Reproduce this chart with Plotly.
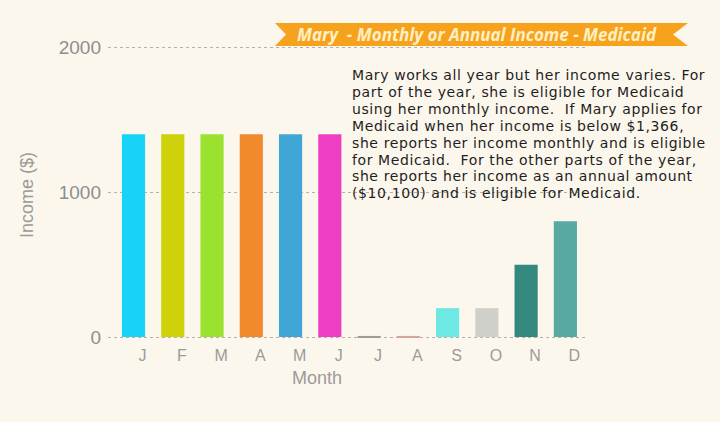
import plotly.graph_objects as go

months = ["Jan", "Feb", "Mar", "Apr", "May", "Jun", "Jul", "Aug", "Sep", "Oct", "Nov", "Dec"]
month_labels = ["J", "F", "M", "A", "M", "J", "J", "A", "S", "O", "N", "D"]
income = [1400, 1400, 1400, 1400, 1400, 1400, 8, 8, 200, 200, 500, 800]
bar_colors = ["#17d3f8", "#cfd20b", "#9be22f", "#f08a2c", "#40a6d6", "#ee3fc4",
              "#a09a98", "#d8a4a0", "#6ee8e3", "#d0d0ca", "#35887d", "#58a9a1"]
y_ticks = [0, 1000, 2000]

title_text = "Mary  - Monthly or Annual Income - Medicaid"
note_lines = [
    "Mary works all year but her income varies. For",
    "part of the year, she is eligible for Medicaid",
    "using her monthly income.  If Mary applies for",
    "Medicaid when her income is below $1,366,",
    "she reports her income monthly and is eligible",
    "for Medicaid.  For the other parts of the year,",
    "she reports her income as an annual amount",
    "($10,100) and is eligible for Medicaid.",
]

W, H = 720, 422
ML, MR, MT, MB = 108, 135, 43, 82
PW, PH = W - ML - MR, H - MT - MB


def px(x):
    return (x - ML) / PW


def py(y):
    return (H - MB - y) / PH


bg = "#fcf7ed"

fig = go.Figure()
fig.add_trace(go.Bar(
    x=list(range(len(months))), y=income, width=0.59,
    marker=dict(color=bar_colors, line=dict(width=0)),
    hovertext=months, showlegend=False,
))

# banner ribbon
pts = [(275, 23), (688, 23), (673, 34.5), (688, 46), (275, 46), (286, 34.5)]
path = "M " + " L ".join(f"{px(a):.5f},{py(b):.5f}" for a, b in pts) + " Z"
fig.add_shape(type="path", path=path, xref="paper", yref="paper",
              fillcolor="#f7a21d", line=dict(width=0), layer="above")

span_style = "font-size:14px;letter-spacing:0.6px"
note_html = "<br>".join(f'<span style="{span_style}">{ln}</span>' for ln in note_lines)

annotations = [
    dict(text=title_text, x=px(477), y=py(34.5), xref="paper", yref="paper",
         showarrow=False, xanchor="center", yanchor="middle",
         font=dict(family="Open Sans", size=17, color="#fff0c4", style="italic", weight="bold")),
    dict(text="Income ($)", x=px(27), y=py(195), xref="paper", yref="paper",
         showarrow=False, textangle=-90, xanchor="center", yanchor="middle",
         font=dict(family="Liberation Sans", size=18, color="#9b9b9b")),
    dict(text="Month", x=px(317), y=py(378), xref="paper", yref="paper",
         showarrow=False, xanchor="center", yanchor="middle",
         font=dict(family="Liberation Sans", size=18, color="#9b9b9b")),
    dict(text=note_html, x=px(350), y=py(134), xref="paper", yref="paper",
         showarrow=False, xanchor="left", yanchor="middle", align="left",
         font=dict(family="DejaVu Sans", size=13, color="#1e1e1e")),
]

fig.update_layout(
    width=W, height=H,
    margin=dict(l=ML, r=MR, t=MT, b=MB),
    paper_bgcolor=bg, plot_bgcolor=bg,
    bargap=0.4,
    annotations=annotations,
    xaxis=dict(
        range=[-0.65, 11.5], tickmode="array",
        tickvals=list(range(len(months))), ticktext=month_labels,
        showgrid=False, zeroline=False, showline=False, ticks="",
        tickfont=dict(family="Liberation Sans", size=16, color="#9b9b9b"),
        ticklabelshift=9, ticklabelstandoff=4, fixedrange=True,
    ),
    yaxis=dict(
        range=[-20, 2030], tickmode="array", tickvals=y_ticks,
        showgrid=True, gridcolor="#b5b0aa", griddash="3px,3px", gridwidth=1,
        zeroline=False, showline=False, ticks="",
        tickfont=dict(family="Liberation Sans", size=19, color="#8e8e8e"),
        ticklabelstandoff=6, fixedrange=True,
    ),
)

fig.write_html("out.html")
